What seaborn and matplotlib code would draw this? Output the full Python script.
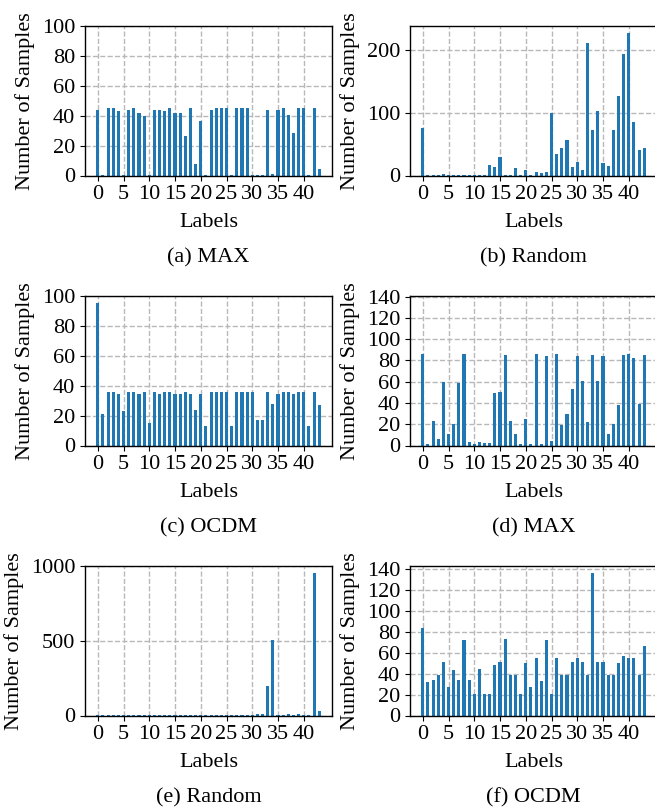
import matplotlib
matplotlib.use("Agg")
import matplotlib.pyplot as plt
import seaborn as sns

labels = list(range(44))

a_max = [44, 0.3, 45, 45, 43, 0.3, 44, 45, 42, 40, 0.3, 44, 44, 43, 45, 42, 42, 26.5, 45, 8,
         36.5, 0.3, 44, 45, 45, 45, 0.3, 45, 45, 45, 0.3, 0.3, 0.3, 44, 1, 44, 45, 40.5, 28.5, 45,
         45, 0.3, 45, 4.5]
b_random = [75, 1, 1, 1, 3, 1, 1, 1, 1, 1, 1, 1, 1, 16, 14, 30, 1, 1, 12, 1,
            8, 1, 6, 4, 6, 99, 35, 44, 57, 14, 22, 9, 211, 73, 103, 20, 15, 73, 127, 193,
            227, 86, 41, 44]
c_ocdm = [95.5, 21, 36, 36, 34.5, 23, 36, 36, 34.5, 36, 15, 36, 34.5, 36, 36, 34.5, 34.5, 36, 34.5, 24,
          34.5, 13, 36, 36, 36, 36, 13, 36, 36, 36, 36, 17, 17, 36, 28, 34.5, 36, 36, 34.5, 36,
          36, 13, 36, 27]
d_max = [86, 1.5, 23, 6, 60, 11, 20, 59, 86, 3, 1.5, 3.4, 2.5, 2.5, 49, 50, 85, 23, 11, 1.5,
         25, 1.5, 86, 1.5, 84, 4, 86, 19, 30, 53, 84, 60.5, 22, 85, 60.5, 84, 11, 20, 38, 85,
         86, 82, 39, 85]
e_random = [3, 3, 3, 3, 3, 3, 3, 3, 3, 3, 3, 3, 3, 3, 3, 3, 3, 3, 3, 3,
            3, 3, 3, 3, 3, 3, 3, 3, 3, 3, 3, 7, 11, 200, 504, 3, 3, 11, 3, 11,
            3, 3, 955, 31]
f_ocdm = [84, 32, 34, 39, 51, 27, 43, 34, 72, 34, 21, 44, 21, 21, 48, 51, 73, 39, 39, 21,
          50, 27, 55, 33, 72, 21, 55, 39, 39, 51, 55, 51, 39, 136, 51, 51, 39, 39, 50, 57,
          55, 55, 39, 66]

subtitles = ["(a) MAX", "(b) Random", "(c) OCDM", "(d) MAX", "(e) Random", "(f) OCDM"]
series = [a_max, b_random, c_ocdm, d_max, e_random, f_ocdm]
ylims = [(0, 100), None, (0, 100), (0, 140.5), (0, 1000), None]
ysteps = [20, 100, 20, 20, 500, 20]
xticks = list(range(0, 41, 5))

plt.rcParams.update({
    "font.size": 16,
    "axes.linewidth": 1.0,
    "xtick.direction": "out",
    "ytick.direction": "out",
})
plt.rcParams["font.family"] = "Liberation Serif"
FONT = "Liberation Serif"

W, H = 655, 811
fig = plt.figure(figsize=(W / 100, H / 100), dpi=100)

col_left = [85, 410]
col_w = 247
row_top = [26, 296, 566]
row_h = 149.5

for i, (vals, sub) in enumerate(zip(series, subtitles)):
    r, c = divmod(i, 2)
    l = col_left[c]
    t = row_top[r]
    ax = fig.add_axes([l / W, 1 - (t + row_h) / H, col_w / W, row_h / H])
    sns.barplot(x=labels, y=vals, native_scale=True, width=0.6, color="#1f77b4",
                saturation=1, errorbar=None, ax=ax)
    ax.set_xticks(xticks)
    ax.set_xticklabels([str(v) for v in xticks], family=FONT, fontsize=16)
    ax.set_xlim(-2.48, 45.48)
    if ylims[i] is not None:
        ax.set_ylim(*ylims[i])
    ax.yaxis.set_major_locator(matplotlib.ticker.MultipleLocator(ysteps[i]))
    for lab in ax.get_yticklabels():
        lab.set_family(FONT)
        lab.set_fontsize(16)
    ax.grid(True, linestyle="--", color="#b8b8b8", linewidth=1)
    ax.set_axisbelow(True)
    for s in ax.spines.values():
        s.set_visible(True)
        s.set_color("black")
    ax.set_xlabel("Labels", family=FONT, fontsize=16, labelpad=6.5)
    ax.set_ylabel("Number of Samples", family=FONT, fontsize=16, labelpad=5)
    cx = (l + col_w / 2) / W
    fig.text(cx, 1 - (t + row_h + 82) / H, sub, ha="center", va="center",
             fontsize=16, family=FONT)

fig.savefig("out.png", dpi=100)
